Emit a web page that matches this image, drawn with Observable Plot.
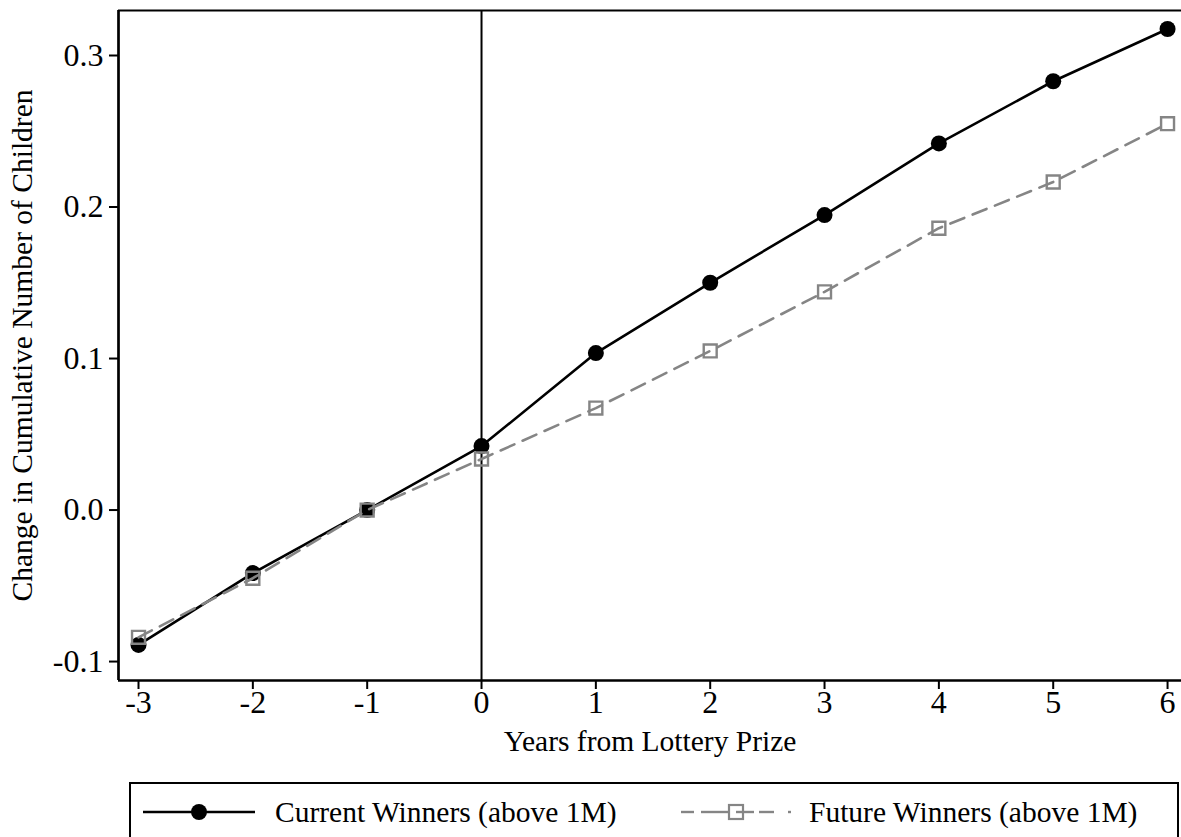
<!DOCTYPE html>
<html>
<head>
<meta charset="utf-8">
<script src="https://cdn.jsdelivr.net/npm/d3@7"></script>
<script src="https://cdn.jsdelivr.net/npm/@observablehq/plot@0.6"></script>
<style>
  html, body { margin: 0; padding: 0; background: #fff; }
  body { width: 1181px; height: 837px; overflow: hidden; font-family: "Liberation Serif", "Times New Roman", serif; }
  #legend { position: absolute; left: 129px; top: 782px; }
</style>
</head>
<body>
<div id="chart"></div>
<div id="legend"></div>
<script>
// ---- data ----
const years = [-3, -2, -1, 0, 1, 2, 3, 4, 5, 6];
const currentWinners = [-0.089, -0.0416, 0.0, 0.0422, 0.1036, 0.150, 0.1947, 0.242, 0.283, 0.3175];
const futureWinners  = [-0.084, -0.045, 0.0, 0.0337, 0.0673, 0.105, 0.144, 0.186, 0.2165, 0.255];
const xTicks = [-3, -2, -1, 0, 1, 2, 3, 4, 5, 6];
const yTicks = [-0.1, 0.0, 0.1, 0.2, 0.3];
const seriesNames = ["Current Winners (above 1M)", "Future Winners (above 1M)"];
const xTitle = "Years from Lottery Prize";
const yTitle = "Change in Cumulative Number of Children";

const xDomain = [-3.175, 6.122];
const yDomain = [-0.1125, 0.3297];

const cur = years.map((x, i) => ({x, y: currentWinners[i]}));
const fut = years.map((x, i) => ({x, y: futureWinners[i]}));

const grey = "#858585";
const font = "Liberation Serif";
const fs = 29.5;
const tfs = 32;

const chart = Plot.plot({
  width: 1181,
  height: 770,
  marginLeft: 118,
  marginRight: 0,
  marginTop: 10,
  marginBottom: 90,
  style: {fontFamily: font, background: "#fff", color: "#000", overflow: "visible"},
  x: {domain: xDomain},
  y: {domain: yDomain},
  marks: [
    Plot.axisX(xTicks, {tickSize: 9, tickPadding: 1, strokeWidth: 2, fontSize: tfs, tickFormat: d => String(d), label: null}),
    Plot.axisY(yTicks, {tickSize: 9, tickPadding: 6, strokeWidth: 2, fontSize: tfs, tickFormat: d => d.toFixed(1), label: null}),
    Plot.text([xTitle], {frameAnchor: "bottom", dy: 70, fontSize: fs, fill: "#000", textAnchor: "middle"}),
    Plot.text([yTitle], {frameAnchor: "left", dx: -96, rotate: -90, fontSize: fs, fill: "#000", textAnchor: "middle"}),
    Plot.ruleY([yDomain[0]], {strokeWidth: 2.7}),
    Plot.ruleY([yDomain[1]], {strokeWidth: 2.2}),
    Plot.ruleX([xDomain[0]], {strokeWidth: 2.7}),
    Plot.ruleX([0], {strokeWidth: 2}),
    Plot.line(cur, {x: "x", y: "y", stroke: "#000", strokeWidth: 2.6}),
    Plot.dot(cur, {x: "x", y: "y", r: 8, fill: "#000", stroke: "none"}),
    Plot.line(fut, {x: "x", y: "y", stroke: grey, strokeWidth: 2.6, strokeDasharray: "15,9"}),
    Plot.dot(fut, {x: "x", y: "y", symbol: "square", r: 7.3, fill: "none", stroke: grey, strokeWidth: 2.4})
  ]
});
document.getElementById("chart").appendChild(chart);

// ---- legend ----
const W = 1050, H = 70;
const lg = d3.select("#legend").append("svg").attr("width", W).attr("height", H)
  .style("font-family", font).style("overflow", "visible");
lg.append("rect").attr("x", 1).attr("y", 1).attr("width", W - 2).attr("height", H).attr("fill", "none").attr("stroke", "#000").attr("stroke-width", 2);
const cy = 30;
lg.append("line").attr("x1", 14).attr("x2", 126).attr("y1", cy).attr("y2", cy).attr("stroke", "#000").attr("stroke-width", 2.6);
lg.append("circle").attr("cx", 70).attr("cy", cy).attr("r", 8).attr("fill", "#000");
lg.append("text").attr("x", 146).attr("y", cy).attr("dy", "0.35em").attr("font-size", fs).text(seriesNames[0]);
const segs = [[552, 565], [572, 600], [630, 645], [659, 662]];
segs.forEach(([a, b]) => lg.append("line").attr("x1", a).attr("x2", b).attr("y1", cy).attr("y2", cy).attr("stroke", grey).attr("stroke-width", 2.4));
lg.append("rect").attr("x", 600).attr("y", cy - 7).attr("width", 14).attr("height", 14).attr("fill", "#fff").attr("stroke", grey).attr("stroke-width", 2.2);
lg.append("line").attr("x1", 607).attr("x2", 625).attr("y1", cy).attr("y2", cy).attr("stroke", grey).attr("stroke-width", 2.4);
lg.append("text").attr("x", 680).attr("y", cy).attr("dy", "0.35em").attr("font-size", fs).text(seriesNames[1]);
</script>
</body>
</html>
